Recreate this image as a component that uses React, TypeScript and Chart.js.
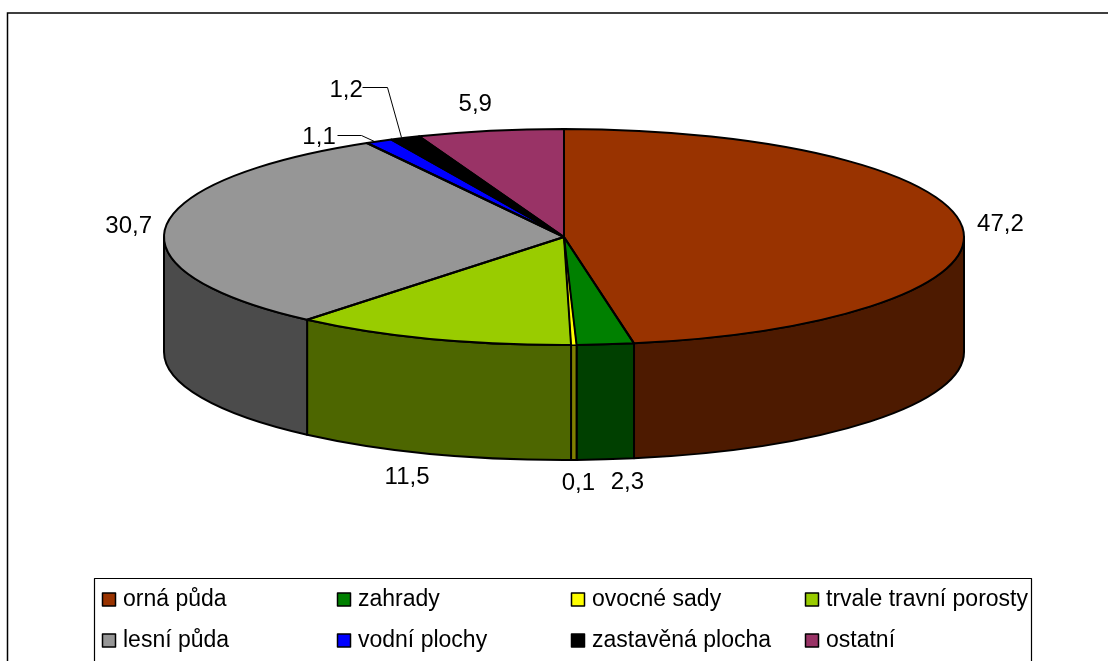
import React, { useEffect, useRef } from "react";
import { Chart, registerables } from "chart.js";

Chart.register(...registerables);

const categories = ["orná půda", "zahrady", "ovocné sady", "trvale travní porosty", "lesní půda", "vodní plochy", "zastavěná plocha", "ostatní"];
const values = [47.2, 2.3, 0.1, 11.5, 30.7, 1.1, 1.2, 5.9];
const valueLabels = ["47,2", "2,3", "0,1", "11,5", "30,7", "1,1", "1,2", "5,9"];
const topColors = ["#993300", "#008000", "#FFFF00", "#99CC00", "#969696", "#0000FF", "#000000", "#993366"];
const sideColors = ["#4D1A00", "#004000", "#808000", "#4D6600", "#4B4B4B", "#000080", "#000000", "#4D1A33"];

const W = 1108, H = 661;
const CX = 564, CY = 237, RX = 400, RY = 108, DEPTH = 115, R = 200;
const FONT = "23px 'Liberation Sans', Arial, sans-serif";
const VALUE_FONT = "24px 'Liberation Sans', Arial, sans-serif";
const MIN_SWEEP = 0.0138; // a very thin slice is still drawn wide enough to be seen
const OUTLINE = 2;

// label centre offset from the outer rim point at each slice's mid-angle (dy includes wall when front)
const labelOffsets: [number, number][] = [[38, -3], [22, 23], [3, 23], [-25, 23], [-37, -1], [-60, -4], [-59, -48], [-15, -26]];
const leaders: [number, number][][] = [
  [[337, 135], [361, 135], [374, 141]],
  [[362, 87], [387, 87], [401, 137]],
];
const legendCols = [102, 337, 571, 805];
const legendRows = [601, 642];

function sweeps(arcs: any[]): [number, number][] {
  let prevEnd = -Infinity;
  return arcs.map((a: any) => {
    const s = Math.max(a.startAngle, prevEnd);
    const e = Math.max(a.endAngle, s + MIN_SWEEP);
    prevEnd = e;
    return [s, e];
  });
}

const pie3d = {
  id: "pie3d",
  beforeDraw(chart: any) {
    const c = chart.ctx;
    c.save();
    c.fillStyle = "#fff";
    c.fillRect(0, 0, W, H);
    c.strokeStyle = "#000";
    c.lineWidth = 1.5;
    c.beginPath();
    c.moveTo(7.5, H);
    c.lineTo(7.5, 13);
    c.lineTo(W, 13);
    c.stroke();
    c.restore();
  },
  beforeDatasetsDraw(chart: any) {
    const c = chart.ctx;
    const sw = sweeps(chart.getDatasetMeta(0).data);
    c.save();
    c.lineWidth = OUTLINE;
    c.strokeStyle = "#000";
    c.lineJoin = "round";
    sw.forEach(([a0, a1], i) => {
      const s = Math.max(a0, 0), e = Math.min(a1, Math.PI);
      if (e <= s) return;
      c.beginPath();
      c.ellipse(CX, CY, RX, RY, 0, s, e);
      c.lineTo(CX + RX * Math.cos(e), CY + RY * Math.sin(e) + DEPTH);
      c.ellipse(CX, CY + DEPTH, RX, RY, 0, e, s, true);
      c.closePath();
      c.fillStyle = sideColors[i];
      c.fill();
      c.stroke();
    });
    c.restore();
    c.save();
    c.translate(CX, CY);
    c.scale(RX / R, RY / R);
    c.translate(-CX, -CY);
  },
  afterDatasetsDraw(chart: any) {
    const c = chart.ctx;
    c.restore();
    const arcs = chart.getDatasetMeta(0).data;
    const sw = sweeps(arcs);
    c.save();
    c.lineWidth = OUTLINE;
    c.strokeStyle = "#000";
    c.lineJoin = "round";
    sw.forEach(([s, e], i) => {
      c.beginPath();
      c.moveTo(CX, CY);
      c.ellipse(CX, CY, RX, RY, 0, s, e);
      c.closePath();
      if (e - s <= MIN_SWEEP * 1.01) {
        c.fillStyle = topColors[i];
        c.fill();
      }
    });
    sw.forEach(([s, e], i) => {
      const narrow = e - s <= MIN_SWEEP * 1.01;
      c.lineWidth = narrow ? 1 : OUTLINE;
      c.beginPath();
      c.moveTo(CX, CY);
      c.ellipse(CX, CY, RX, RY, 0, s, e);
      c.closePath();
      c.stroke();
    });
    c.fillStyle = "#000";
    c.font = VALUE_FONT;
    c.textAlign = "center";
    c.textBaseline = "middle";
    arcs.forEach((a: any, i: number) => {
      const mid = (a.startAngle + a.endAngle) / 2;
      const front = mid > 0 && mid < Math.PI && Math.abs(Math.cos(mid)) < 0.9;
      const x = CX + RX * Math.cos(mid) + labelOffsets[i][0];
      const y = CY + RY * Math.sin(mid) + (front ? DEPTH : 0) + labelOffsets[i][1];
      c.fillText(valueLabels[i], x, y);
    });
    c.lineWidth = 1;
    leaders.forEach((pts) => {
      c.beginPath();
      pts.forEach(([x, y], k) => (k ? c.lineTo(x + 0.5, y + 0.5) : c.moveTo(x + 0.5, y + 0.5)));
      c.stroke();
    });
    // legend
    c.fillStyle = "#fff";
    c.fillRect(94.5, 578.5, 937, 100);
    c.lineWidth = 1.2;
    c.strokeStyle = "#000";
    c.strokeRect(94.5, 578.5, 937, 100);
    c.font = FONT;
    c.textAlign = "left";
    categories.forEach((label, i) => {
      const x = legendCols[i % 4], y = legendRows[Math.floor(i / 4)];
      c.fillStyle = topColors[i];
      c.fillRect(x + 0.5, y - 8, 13, 13);
      c.lineWidth = 1.5;
      c.strokeRect(x + 0.5, y - 8, 13, 13);
      c.fillStyle = "#000";
      c.fillText(label, x + 21, y - 1);
    });
    c.restore();
  },
};

export default function App() {
  const ref = useRef<HTMLCanvasElement>(null);
  useEffect(() => {
    const chart = new Chart(ref.current!, {
      type: "pie",
      data: {
        labels: categories,
        datasets: [{ data: values, backgroundColor: topColors, borderWidth: 0, clip: false } as any],
      },
      options: {
        responsive: false,
        animation: false,
        layout: { padding: { left: CX - R, right: W - CX - R, top: CY - R, bottom: H - CY - R } },
        plugins: { legend: { display: false }, tooltip: { enabled: false }, title: { display: false } },
      },
      plugins: [pie3d],
    });
    return () => chart.destroy();
  }, []);
  return <canvas ref={ref} width={W} height={H} style={{ position: "fixed", left: 0, top: 0, width: W, height: H }} />;
}
